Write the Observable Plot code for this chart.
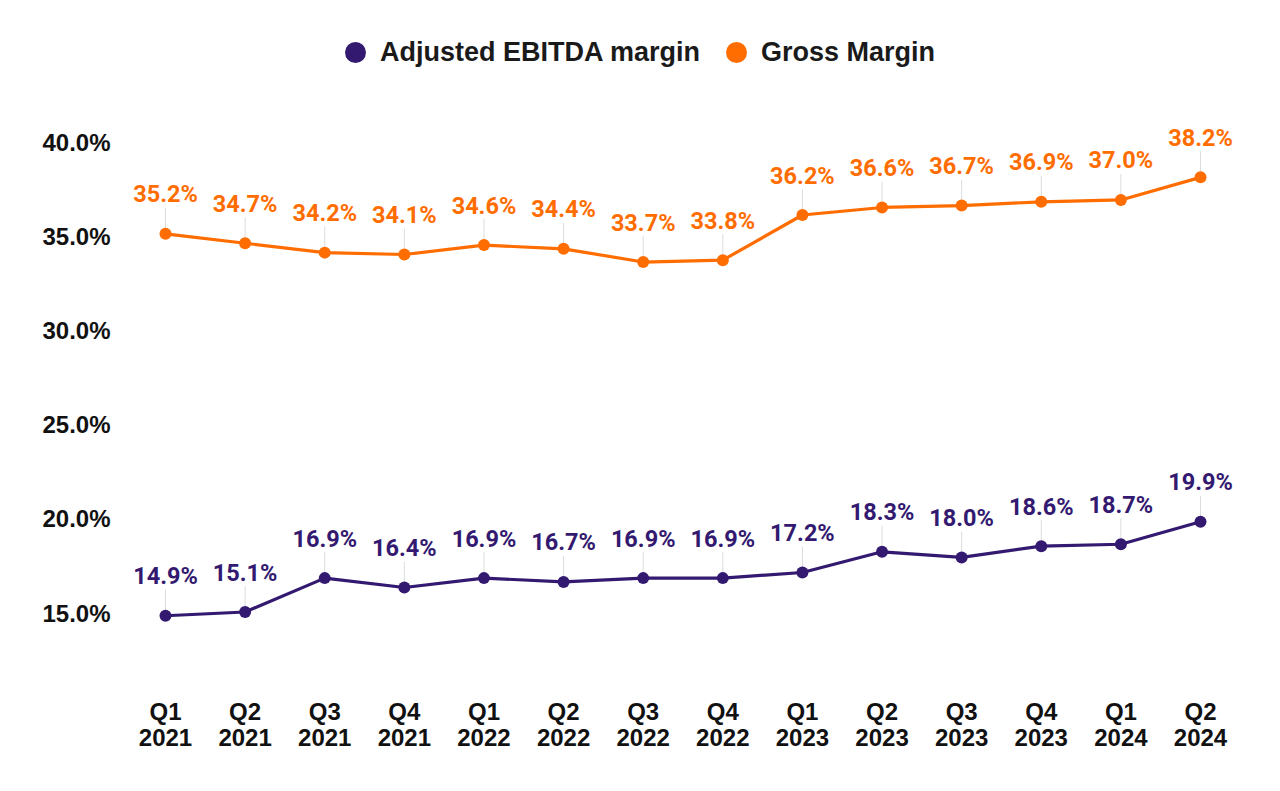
<!DOCTYPE html>
<html>
<head>
<meta charset="utf-8">
<script src="https://cdn.jsdelivr.net/npm/d3@7"></script>
<script src="https://cdn.jsdelivr.net/npm/@observablehq/plot@0.6"></script>
<style>
  html, body { margin: 0; padding: 0; background: #fff; }
  #legend { height: 90px; display: flex; justify-content: center; align-items: center; padding-top: 14px; box-sizing: border-box;
    font-family: "Liberation Sans", Arial, sans-serif; font-weight: bold; font-size: 27px; color: #1a1a1a; }
  .item { display: flex; align-items: center; margin: 0 13px; }
  .sw { width: 21px; height: 21px; border-radius: 50%; margin-right: 14px; }
</style>
</head>
<body>
<div id="legend"></div>
<div id="chart"></div>
<script>
const quarters = ["Q1\n2021","Q2\n2021","Q3\n2021","Q4\n2021","Q1\n2022","Q2\n2022","Q3\n2022","Q4\n2022","Q1\n2023","Q2\n2023","Q3\n2023","Q4\n2023","Q1\n2024","Q2\n2024"];
const ebitda = [14.9, 15.1, 16.9, 16.4, 16.9, 16.7, 16.9, 16.9, 17.2, 18.3, 18.0, 18.6, 18.7, 19.9];
const gross = [35.2, 34.7, 34.2, 34.1, 34.6, 34.4, 33.7, 33.8, 36.2, 36.6, 36.7, 36.9, 37.0, 38.2];
const seriesNames = ["Adjusted EBITDA margin", "Gross Margin"];
const colors = ["#331a70", "#ff6d00"];
const yTicks = [15, 20, 25, 30, 35, 40];

const data = [];
quarters.forEach((q, i) => {
  data.push({q, series: seriesNames[0], value: ebitda[i]});
  data.push({q, series: seriesNames[1], value: gross[i]});
});

const legend = document.getElementById("legend");
seriesNames.forEach((s, i) => {
  const it = document.createElement("div");
  it.className = "item";
  it.innerHTML = `<span class="sw" style="background:${colors[i]}"></span><span>${s}</span>`;
  legend.appendChild(it);
});

const chart = Plot.plot({
  width: 1280,
  height: 701,
  marginLeft: 165,
  marginRight: 80,
  marginTop: 53,
  marginBottom: 140,
  style: {fontFamily: "'Liberation Sans', Arial, sans-serif", background: "#fff", overflow: "visible"},
  x: {type: "point", domain: quarters, padding: 0, round: false},
  y: {domain: [13, 40]},
  color: {domain: seriesNames, range: colors},
  marks: [
    Plot.axisY({ticks: yTicks, tickSize: 0, tickPadding: 55, tickFormat: d => d.toFixed(1) + "%", fontSize: 24, fontWeight: "bold", fill: "#111", label: null}),
    Plot.axisX({tickSize: 0, tickPadding: 51, fontSize: 24, fontWeight: "bold", fill: "#111", label: null, lineHeight: 1.05}),
    Plot.ruleX(data, {x: "q", y1: "value", y2: d => d.value + 1.35, stroke: "#dcdcdc", strokeWidth: 1}),
    Plot.line(data, {x: "q", y: "value", z: "series", stroke: "series", strokeWidth: 3.2}),
    Plot.dot(data, {x: "q", y: "value", fill: "series", r: 6}),
    Plot.text(data, {x: "q", y: "value", text: d => d.value.toFixed(1) + "%", fill: "series", dy: -39, fontSize: 23.5, fontWeight: "bold", fontFamily: "Roboto, sans-serif"})
  ]
});
document.getElementById("chart").appendChild(chart);
</script>
</body>
</html>
